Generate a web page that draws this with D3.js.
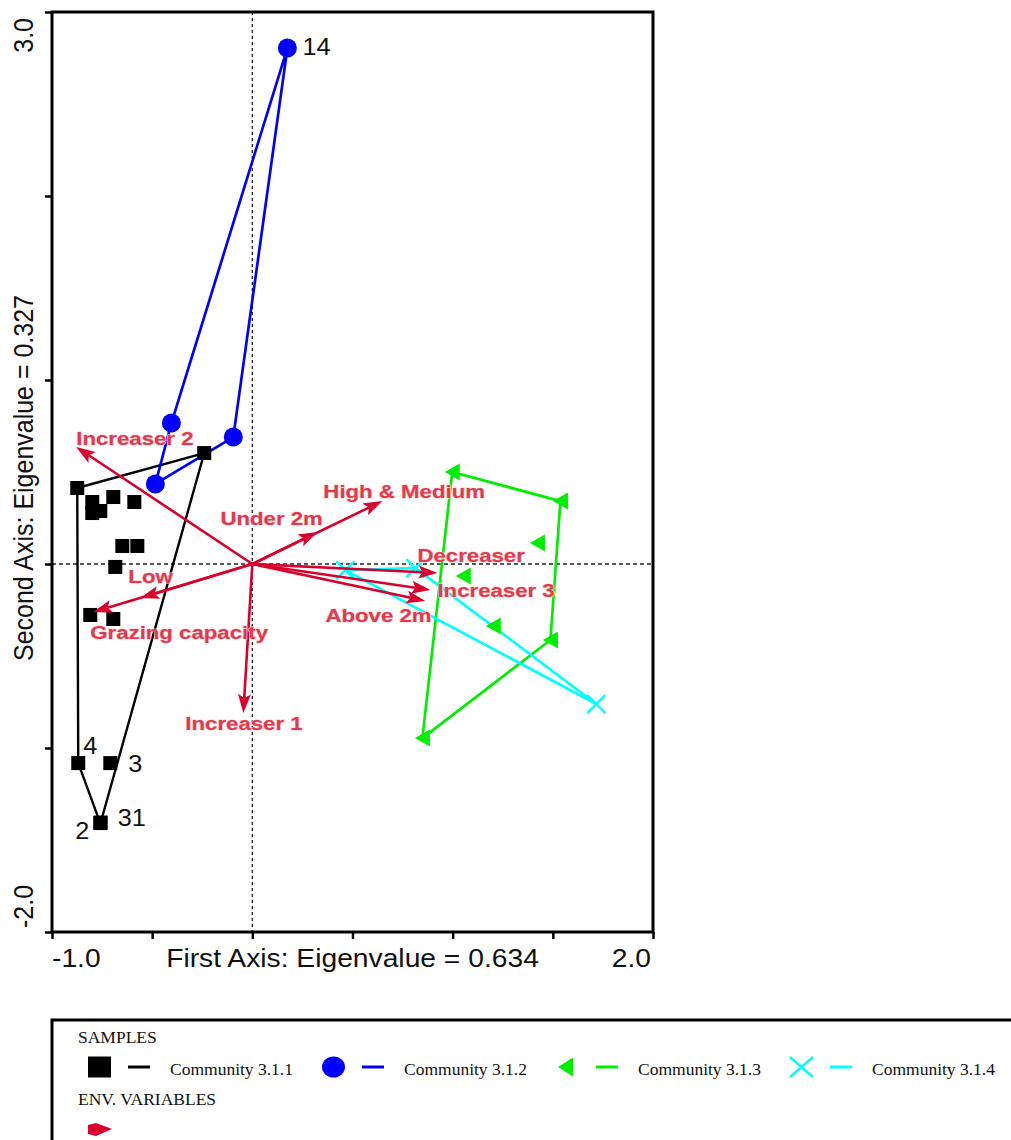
<!DOCTYPE html>
<html>
<head>
<meta charset="utf-8">
<script src="https://cdn.jsdelivr.net/npm/d3@7"></script>
<style>
  body { margin: 0; background: #fff; }
  svg { display: block; }
</style>
</head>
<body>
<svg id="chart" width="1011" height="1140"></svg>
<script>
// ---- Sample scores on the first two ordination axes, per community ----
const community311 = [
  [-0.874, 0.413], [-0.240, 0.603], [-0.799, 0.337], [-0.799, 0.277], [-0.759, 0.288],
  [-0.694, 0.364], [-0.589, 0.337], [-0.649, 0.098], [-0.574, 0.098], [-0.684, -0.016],
  [-0.809, -0.277], [-0.694, -0.299], [-0.869, -1.082], [-0.709, -1.082], [-0.759, -1.408],
  [-0.757, -1.405]
];
const community311Ids = [null, null, null, null, null, null, null, null, null, null,
  null, null, "4", "3", "2", "31"];

const community312 = [[0.175, 2.804], [-0.404, 0.766], [-0.095, 0.690], [-0.484, 0.435]];
const community312Ids = ["14", null, null, null];

const community313 = [
  [0.998, 0.500], [1.538, 0.342], [1.423, 0.114], [1.053, -0.065],
  [1.203, -0.337], [1.488, -0.413], [0.849, -0.946]
];
const community313Ids = [null, null, null, null, null, null, null];

const community314 = [[0.464, -0.033], [0.814, -0.022], [1.717, -0.761]];
const community314Ids = [null, null, null];

const communityNames = ["Community 3.1.1", "Community 3.1.2", "Community 3.1.3", "Community 3.1.4"];

// ---- Environmental variables (biplot arrow tips) ----
const envNames = ["Increaser 2", "Under 2m", "High & Medium", "Low", "Grazing capacity",
  "Increaser 1", "Decreaser", "Increaser 3", "Above 2m"];
const envAxis1 = [-0.879, 0.325, 0.649, -0.559, -0.794, -0.045, 0.924, 0.889, 0.864];
const envAxis2 = [0.636, 0.174, 0.342, -0.185, -0.261, -0.810, -0.049, -0.141, -0.201];

// ---- Axis ticks ----
const xTicks = [-1, -0.5, 0, 0.5, 1, 1.5, 2];
const yTicks = [-2, -1, 0, 1, 2, 3];
const xTitle = "First Axis: Eigenvalue = 0.634";
const yTitle = "Second Axis: Eigenvalue = 0.327";

// ---- Layout & style ----
const sans = "'Liberation Sans', Arial, sans-serif";
const serif = "'Liberation Serif', 'Times New Roman', serif";
const arrowColor = "#d9002e";
const envTextColor = "#e23a4c";
const styles = [
  { color: "#000000", shape: "square" },
  { color: "#0000ff", shape: "circle" },
  { color: "#00ee00", shape: "triangle" },
  { color: "#00ffff", shape: "cross" }
];
// label placement relative to each arrow tip (px)
const envLabelOffset = {
  "Increaser 2": [0, -2], "Under 2m": [-97, -7], "High & Medium": [-59, -3],
  "Low": [-12, -15], "Grazing capacity": [-3, 27], "Increaser 1": [-58, 17],
  "Decreaser": [-20, -11], "Increaser 3": [7, 7], "Above 2m": [-100, 21]
};
// sample-number placement relative to the marker (px)
const idOffset = { "14": [15, 7], "4": [5, -9], "3": [18, 9], "31": [17, 3], "2": [-25, 16] };

const svg = d3.select("#chart");
const x = d3.scaleLinear().domain([-1, 2]).range([52, 653]);
const y = d3.scaleLinear().domain([-2, 3]).range([932, 12]);

function stretchedText(g, tx, ty, txt, opts) {
  const sx = opts.sx || 1;
  const rot = opts.rotate ? ` rotate(${opts.rotate})` : "";
  return g.append("text")
    .attr("transform", `translate(${tx},${ty}) scale(${sx},1)${rot}`)
    .attr("font-family", opts.family || sans)
    .attr("font-size", opts.size)
    .attr("font-weight", opts.weight || "normal")
    .attr("text-anchor", opts.anchor || "start")
    .attr("fill", opts.fill || "#111")
    .text(txt);
}

// ---- zero reference lines ----
svg.append("line")
  .attr("x1", x(0)).attr("x2", x(0)).attr("y1", y(3)).attr("y2", y(-2))
  .attr("stroke", "#222").attr("stroke-width", 1.4).attr("stroke-dasharray", "3,3");
svg.append("line")
  .attr("x1", x(-1)).attr("x2", x(2)).attr("y1", y(0)).attr("y2", y(0))
  .attr("stroke", "#222").attr("stroke-width", 1.4).attr("stroke-dasharray", "4,3");

// ---- frame and ticks ----
svg.append("g").attr("transform", `translate(0,${y(-2)})`)
  .call(d3.axisBottom(x).tickValues(xTicks).tickSize(7).tickFormat(""))
  .call(g => g.select(".domain").remove())
  .call(g => g.selectAll("line").attr("stroke", "#000").attr("stroke-width", 2.5));
svg.append("g").attr("transform", `translate(${x(-1)},0)`)
  .call(d3.axisLeft(y).tickValues(yTicks).tickSize(7).tickFormat(""))
  .call(g => g.select(".domain").remove())
  .call(g => g.selectAll("line").attr("stroke", "#000").attr("stroke-width", 2.5));
svg.append("rect")
  .attr("x", x(-1)).attr("y", y(3))
  .attr("width", x(2) - x(-1)).attr("height", y(-2) - y(3))
  .attr("fill", "none").attr("stroke", "#000").attr("stroke-width", 3);

// ---- axis labels ----
const axisG = svg.append("g");
stretchedText(axisG, x(-1), 967, d3.format(".1f")(xTicks[0]).replace("−", "-"), { size: 25, sx: 1.13 });
stretchedText(axisG, x(2) - 2, 967, d3.format(".1f")(xTicks[xTicks.length - 1]), { size: 25, sx: 1.13, anchor: "end" });
stretchedText(axisG, (x(-1) + x(2)) / 2, 967, xTitle, { size: 25, sx: 1.13, anchor: "middle" });
stretchedText(axisG, 33, y(3) + 6, d3.format(".1f")(yTicks[yTicks.length - 1]), { size: 25, sx: 1.13, rotate: -90, anchor: "end" });
stretchedText(axisG, 33, y(-2) - 4, d3.format(".1f")(yTicks[0]).replace("−", "-"), { size: 25, sx: 1.13, rotate: -90, anchor: "start" });
stretchedText(axisG, 33, 478, yTitle, { size: 25, sx: 1.13, rotate: -90, anchor: "middle" });

// ---- community envelopes and markers ----
const communities = [
  { pts: community311, ids: community311Ids },
  { pts: community312, ids: community312Ids },
  { pts: community313, ids: community313Ids },
  { pts: community314, ids: community314Ids }
];

function drawMarker(g, shape, color, cx, cy, s) {
  if (shape === "square") {
    g.append("rect").attr("x", cx - s.w / 2).attr("y", cy - s.h / 2)
      .attr("width", s.w).attr("height", s.h).attr("fill", color);
  } else if (shape === "circle") {
    g.append("ellipse").attr("cx", cx).attr("cy", cy).attr("rx", s.w / 2).attr("ry", s.h / 2)
      .attr("fill", color);
  } else if (shape === "triangle") {
    g.append("path")
      .attr("d", `M${cx - s.w / 2},${cy} L${cx + s.w / 2},${cy - s.h / 2} L${cx + s.w / 2},${cy + s.h / 2} Z`)
      .attr("fill", color);
  } else {
    g.append("path")
      .attr("d", `M${cx - s.w / 2},${cy - s.h / 2} L${cx + s.w / 2},${cy + s.h / 2} M${cx - s.w / 2},${cy + s.h / 2} L${cx + s.w / 2},${cy - s.h / 2}`)
      .attr("stroke", color).attr("stroke-width", 2.5).attr("fill", "none");
  }
}
const markerSize = {
  square: { w: 14, h: 14 }, circle: { w: 19, h: 19 },
  triangle: { w: 15, h: 17 }, cross: { w: 18, h: 18 }
};

const hullG = svg.append("g");
const markG = svg.append("g");
const idG = svg.append("g");
communities.forEach((c, i) => {
  const st = styles[i];
  const px = c.pts.map(d => [x(d[0]), y(d[1])]);
  const hull = d3.polygonHull(px);
  hullG.append("path")
    .attr("d", d3.line()(hull) + "Z")
    .attr("fill", "none").attr("stroke", st.color)
    .attr("stroke-width", i === 0 ? 2.4 : 2.7).attr("stroke-linejoin", "round");
  px.forEach((p, j) => {
    drawMarker(markG, st.shape, st.color, p[0], p[1], markerSize[st.shape]);
    const id = c.ids[j];
    if (id) {
      const o = idOffset[id] || [10, 0];
      stretchedText(idG, p[0] + o[0], p[1] + o[1], id, { size: 23, sx: 1.1 });
    }
  });
});

// ---- environmental arrows ----
const arrowG = svg.append("g");
const ox = x(0), oy = y(0);
const headLen = 19, headHalf = 6.5;
envNames.forEach((name, i) => {
  const tx = x(envAxis1[i]), ty = y(envAxis2[i]);
  const dx = tx - ox, dy = ty - oy, len = Math.hypot(dx, dy);
  const ux = dx / len, uy = dy / len, nx = -uy, ny = ux;
  const bx = tx - ux * headLen, by = ty - uy * headLen;
  arrowG.append("line")
    .attr("x1", ox).attr("y1", oy).attr("x2", bx + ux * 4).attr("y2", by + uy * 4)
    .attr("stroke", arrowColor).attr("stroke-width", 2.6);
  arrowG.append("path")
    .attr("d", `M${tx},${ty} L${bx + nx * headHalf},${by + ny * headHalf} L${bx + ux * 4},${by + uy * 4} L${bx - nx * headHalf},${by - ny * headHalf} Z`)
    .attr("fill", arrowColor);
});

const envTextG = svg.append("g");
envNames.forEach((name, i) => {
  const o = envLabelOffset[name];
  stretchedText(envTextG, x(envAxis1[i]) + o[0], y(envAxis2[i]) + o[1], name,
    { size: 19, sx: 1.17, weight: "bold", fill: envTextColor })
    .attr("stroke", "#f7d0d4").attr("stroke-width", 1.2).attr("paint-order", "stroke");
});

// ---- legend ----
const leg = svg.append("g");
leg.append("rect")
  .attr("x", 52).attr("y", 1020).attr("width", 1000).attr("height", 200)
  .attr("fill", "#fff").attr("stroke", "#000").attr("stroke-width", 3);
leg.append("text").attr("x", 78).attr("y", 1043)
  .attr("font-family", serif).attr("font-size", 17.5).attr("fill", "#111").text("SAMPLES");
const legendMarker = {
  square: { w: 23, h: 21 }, circle: { w: 23, h: 21 },
  triangle: { w: 15, h: 19 }, cross: { w: 23, h: 20 }
};
communityNames.forEach((name, i) => {
  const x0 = 88 + i * 234, cy = 1067;
  const st = styles[i];
  const ms = legendMarker[st.shape];
  const mcx = st.shape === "triangle" ? x0 + 2 + ms.w / 2 : x0 + ms.w / 2;
  drawMarker(leg, st.shape, st.color, mcx, cy, ms);
  leg.append("line")
    .attr("x1", x0 + 40).attr("x2", x0 + 62).attr("y1", cy).attr("y2", cy)
    .attr("stroke", st.color).attr("stroke-width", 3);
  leg.append("text").attr("x", x0 + 82).attr("y", 1075)
    .attr("font-family", serif).attr("font-size", 17.5).attr("fill", "#111").text(name);
});
leg.append("text").attr("x", 78).attr("y", 1105)
  .attr("font-family", serif).attr("font-size", 17.5).attr("fill", "#111").text("ENV. VARIABLES");
leg.append("path")
  .attr("d", "M88,1125 L96,1123 L112,1129 L96,1136 L88,1134 Z")
  .attr("fill", arrowColor);
</script>
</body>
</html>
